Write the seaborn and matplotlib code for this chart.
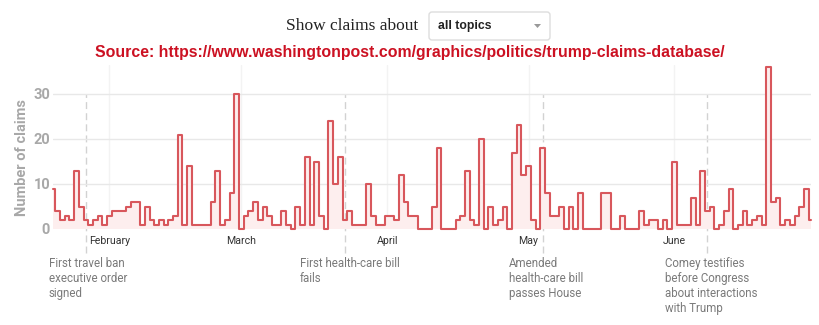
import numpy as np
import pandas as pd
import matplotlib
matplotlib.use("Agg")
import matplotlib.pyplot as plt
import seaborn as sns
from matplotlib.patches import FancyBboxPatch, Polygon

# ---------------- data ----------------
start_date = "2017-01-20"
claims = [
    9, 4, 2, 3, 2, 13, 5, 2, 1, 2,
    3, 1, 3, 4, 4, 4, 5, 6, 6, 1,
    5, 2, 1, 2, 1, 2, 3, 21, 1, 14,
    1, 1, 1, 1, 6, 13, 1, 2, 8, 30,
    0, 3, 4, 6, 2, 5, 3, 1, 1, 4,
    1, 0, 5, 1, 16, 1, 15, 3, 0, 24,
    10, 16, 2, 4, 1, 1, 1, 10, 3, 1,
    1, 3, 3, 2, 12, 6, 3, 3, 0, 0,
    0, 5, 18, 0, 0, 0, 2, 3, 13, 2,
    1, 20, 0, 5, 1, 2, 5, 0, 17, 23,
    12, 14, 2, 0, 18, 8, 3, 3, 5, 0,
    5, 0, 8, 0, 0, 0, 0, 8, 8, 0,
    0, 3, 0, 0, 0, 4, 1, 2, 2, 0,
    2, 0, 15, 1, 1, 1, 7, 1, 13, 4,
    5, 0, 1, 4, 9, 0, 1, 4, 1, 2,
    3, 1, 36, 6, 7, 1, 2, 1, 3, 5,
    9, 2,
]
month_labels = ["February", "March", "April", "May", "June"]
month_dates = ["2017-02-01", "2017-03-01", "2017-04-01", "2017-05-01", "2017-06-01"]
event_dates = ["2017-01-27", "2017-03-23", "2017-05-04", "2017-06-08"]
event_labels = [
    "First travel ban\nexecutive order\nsigned",
    "First health-care bill\nfails",
    "Amended\nhealth-care bill\npasses House",
    "Comey testifies\nbefore Congress\nabout interactions\nwith Trump",
]
y_ticks = [0, 10, 20, 30]
y_tick_labels = ["0", "10", "20", "30"]
topic_choice = "all topics"
source_url = "https://www.washingtonpost.com/graphics/politics/trump-claims-database/"

# ---------------- layout/styles ----------------
event_text_dx = [-37, -45, -34, -42]   # text offset from event line (px)
LINE_C = "#d8575c"
FILL_C = "#fdeeee"
GRID_C = "#e8e8e8"
TICK_C = "#a8a8a8"

dates = pd.date_range(start_date, periods=len(claims), freq="D")
t0 = dates[0]
df = pd.DataFrame({"day": (dates - t0).days, "claims": claims})
month_days = [(pd.Timestamp(d) - t0).days for d in month_dates]
event_days = [(pd.Timestamp(d) - t0).days for d in event_dates]

sns.set_theme(style="white")
plt.rcParams["font.family"] = ["Roboto", "DejaVu Sans"]

W, H = 820, 325
fig = plt.figure(figsize=(W / 100, H / 100), dpi=100)
x_max = df["day"].max()
y_top = 36.5
ax = fig.add_axes([53 / W, (H - 229) / H, 758 / W, y_top * 4.5 / H])

ax.fill_between(df["day"], df["claims"], step="mid", color=FILL_C, linewidth=0, zorder=1)
sns.lineplot(data=df, x="day", y="claims", drawstyle="steps-mid", color=LINE_C,
             linewidth=1.5, estimator=None, ax=ax, clip_on=False, zorder=3)

ax.set_xlim(0, x_max)
ax.set_ylim(0, y_top)
for s in ax.spines.values():
    s.set_visible(False)

ax.set_yticks(y_ticks)
ax.set_yticklabels(y_tick_labels)
ax.yaxis.grid(True, color=GRID_C, linewidth=1)
ax.set_xticks(month_days)
ax.set_xticklabels(month_labels)
ax.xaxis.grid(True, color="#f3f3f3", linewidth=1)
ax.set_axisbelow(True)
ax.tick_params(axis="y", length=0, pad=2, labelsize=10.5, labelcolor=TICK_C)
for t in ax.get_yticklabels():
    t.set_fontweight("bold")
ax.tick_params(axis="x", length=0, pad=5, labelsize=7.6, labelcolor="#333333")
ax.set_xlabel("")
ax.set_ylabel("Number of claims", fontsize=10.5, fontweight="bold", color=TICK_C)
ax.yaxis.set_label_coords(-0.032, 0.436)

# event markers
ax.vlines(event_days, ymin=-5.3, ymax=30, colors="#d2d2d2", linewidth=1,
          linestyles=(0, (5, 3)), clip_on=False, zorder=0)
for d, lab, dx in zip(event_days, event_labels, event_text_dx):
    ax.annotate(lab, xy=(d, H - 257), xycoords=("data", "figure pixels"),
                xytext=(dx, 0), textcoords="offset pixels", ha="left", va="top",
                fontsize=8.3, color="#7a7a7a", linespacing=1.2, annotation_clip=False)

# header
fig.text(418 / W, (H - 26) / H, "Show claims about", ha="right", va="center",
         fontsize=12.5, family=["Liberation Serif", "DejaVu Serif"], color="#222222")
box = FancyBboxPatch((429, H - 40), 121, 28, boxstyle="round,pad=0,rounding_size=3",
                     transform=None, facecolor="white", edgecolor="#dddddd", linewidth=1)
fig.patches.append(box)
fig.text(438 / W, (H - 26) / H, topic_choice, ha="left", va="center", fontsize=8.8,
         fontweight="bold", family=["Liberation Sans", "DejaVu Sans"], color="#222222")
tri = Polygon([[534, H - 24], [541, H - 24], [537.5, H - 28]], closed=True,
              transform=None, facecolor="#999999", edgecolor="none")
fig.patches.append(tri)
fig.text(410 / W, (H - 52) / H, "Source: " + source_url, ha="center", va="center",
         fontsize=11.4, fontweight="bold", family=["Liberation Sans", "DejaVu Sans"],
         color="#cc1122")

fig.savefig("out.png", dpi=100)
